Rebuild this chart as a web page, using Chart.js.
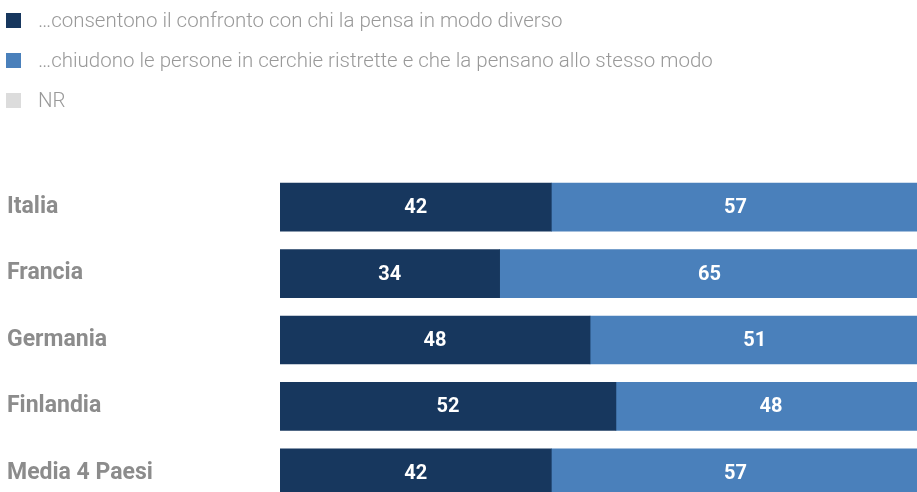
<!DOCTYPE html>
<html>
<head>
<meta charset="utf-8">
<script src="https://cdn.jsdelivr.net/npm/chart.js@4.4.1/dist/chart.umd.min.js"></script>
<style>
  html { margin: 0; padding: 0; overflow: hidden; }
  body { margin: 0; padding: 0; background: #fff; overflow: hidden; position: relative; width: 917px; height: 492px; }
  #barChart { position: absolute; left: 0; top: 0; }
</style>
</head>
<body>
<canvas id="barChart" width="926" height="506"></canvas>
<script>
    // Paesi e percentuali di risposta
    var paesi = ['Italia', 'Francia', 'Germania', 'Finlandia', 'Media 4 Paesi'];
    var confronto = [42, 34, 48, 52, 42];
    var chiusura = [57, 65, 51, 48, 57];
    var nonRisponde = [1, 1, 1, 0, 1];
    var voci = [
        '\u2026consentono il confronto con chi la pensa in modo diverso',
        '\u2026chiudono le persone in cerchie ristrette e che la pensano allo stesso modo',
        'NR'
    ];

    var FONT = 'Roboto, "Noto Sans", sans-serif';

    // Legenda verticale in alto a sinistra
    var legendaVerticale = {
        id: 'legendaVerticale',
        afterDraw: function (chart) {
            var ctx = chart.ctx;
            ctx.save();
            ctx.font = '300 20.5px ' + FONT;
            ctx.textBaseline = 'middle';
            ctx.textAlign = 'left';
            chart.data.datasets.forEach(function (ds, i) {
                var y = 21 + i * 40;
                ctx.fillStyle = ds.backgroundColor;
                ctx.fillRect(6, y - 8, 15, 15);
                ctx.fillStyle = '#999999';
                ctx.fillText(ds.label, 38, y + 1);
            });
            ctx.restore();
        }
    };

    // Valori scritti al centro di ogni segmento
    var etichetteValori = {
        id: 'etichetteValori',
        afterDatasetsDraw: function (chart) {
            var ctx = chart.ctx;
            ctx.save();
            ctx.font = 'bold 20px ' + FONT;
            ctx.fillStyle = '#ffffff';
            ctx.textAlign = 'center';
            ctx.textBaseline = 'middle';
            [0, 1].forEach(function (d) {
                var meta = chart.getDatasetMeta(d);
                meta.data.forEach(function (bar, i) {
                    var v = chart.data.datasets[d].data[i];
                    var cx = (bar.x + bar.base) / 2;
                    ctx.fillText(v, cx, bar.y + 1);
                });
            });
            ctx.restore();
        }
    };

    var ctx = document.getElementById('barChart').getContext('2d');

    // il canvas è più alto della pagina: l'ultima barra resta tagliata in basso
    var barChart = new Chart(ctx, {
        type: 'bar',
        data: {
            labels: paesi,
            datasets: [{
                label: voci[0],
                data: confronto,
                backgroundColor: '#17375e'
            }, {
                label: voci[1],
                data: chiusura,
                backgroundColor: '#4a80bb'
            }, {
                label: voci[2],
                data: nonRisponde,
                backgroundColor: '#dcdcdc'
            }]
        },
        options: {
            indexAxis: 'y',
            responsive: false,
            animation: false,
            devicePixelRatio: 1,
            layout: {
                padding: { top: 174, left: 7, right: 0, bottom: 0 }
            },
            datasets: {
                bar: { barThickness: 48, borderWidth: 0 }
            },
            plugins: {
                legend: { display: false },
                tooltip: { enabled: false }
            },
            scales: {
                x: {
                    stacked: true,
                    display: false,
                    min: 0,
                    max: 100
                },
                y: {
                    stacked: true,
                    grid: { display: false },
                    border: { display: false },
                    ticks: {
                        crossAlign: 'far',
                        padding: 0,
                        color: '#8c8c8c',
                        font: { family: FONT, size: 23, weight: 'bold' }
                    },
                    afterFit: function (scale) {
                        scale.width = 273;
                        scale.paddingTop = 0;
                        scale.paddingBottom = 0;
                    }
                }
            }
        },
        plugins: [legendaVerticale, etichetteValori]
    });
</script>
</body>
</html>
